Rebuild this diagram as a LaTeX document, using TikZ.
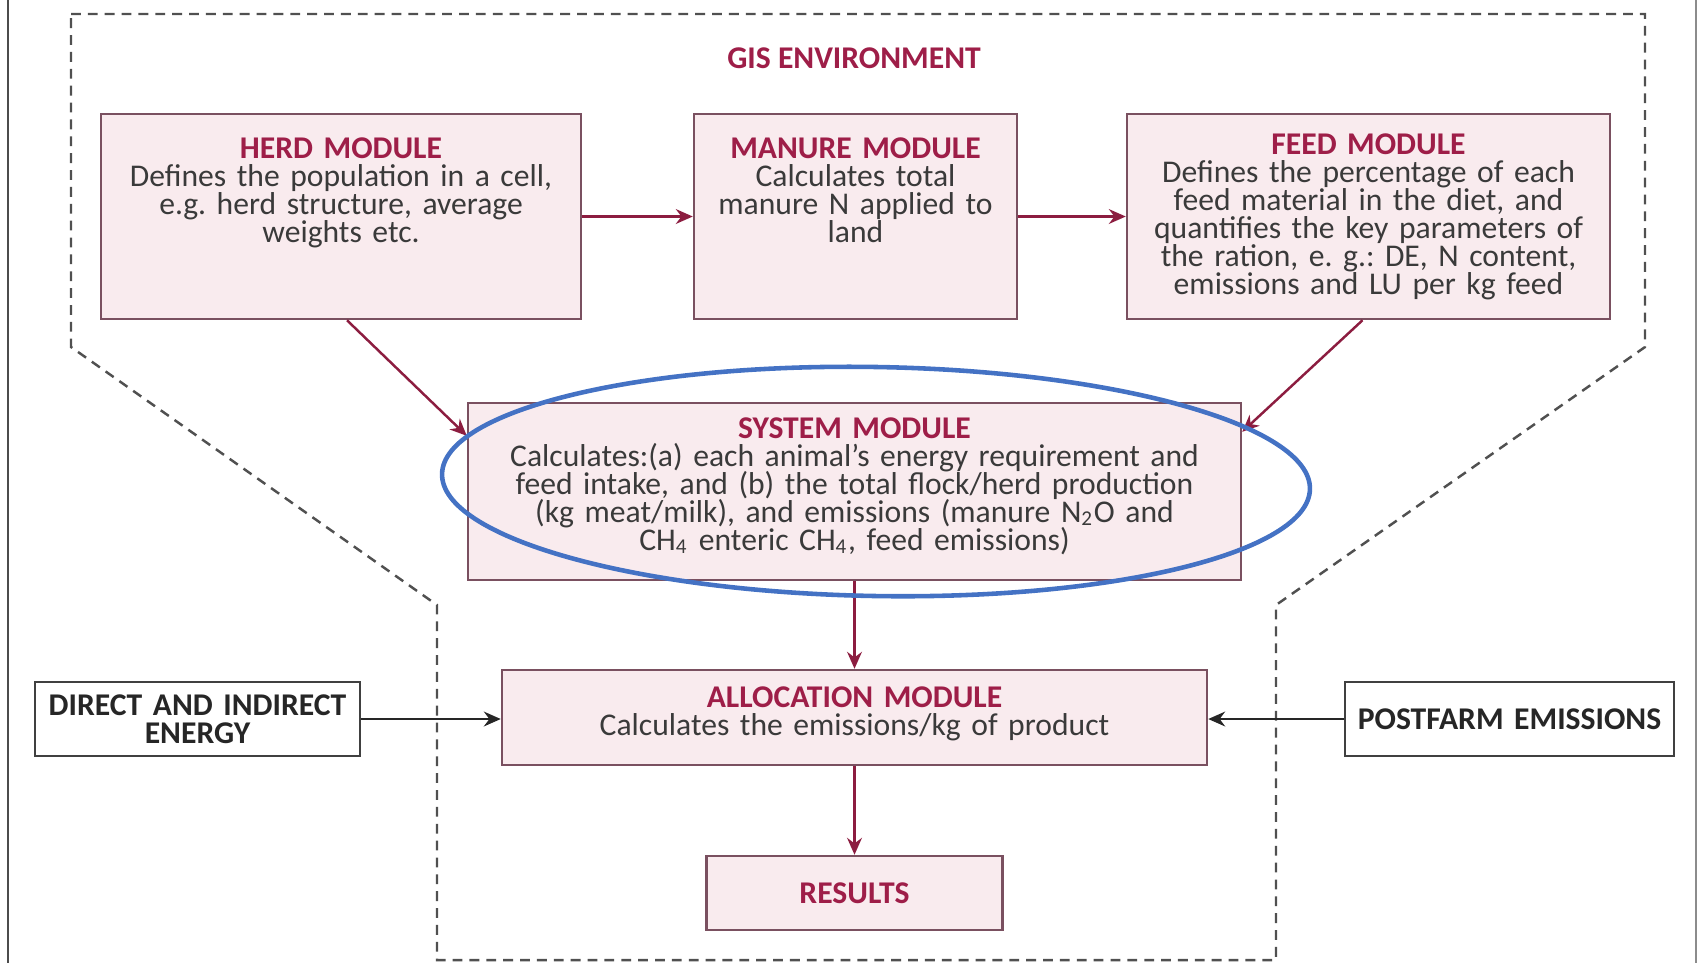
\documentclass[tikz,border=0pt]{standalone}
\usepackage{fontspec}
\setmainfont{Carlito}
\usetikzlibrary{arrows.meta}

\definecolor{gistitle}{RGB}{158,30,72}
\definecolor{gisarrow}{RGB}{140,29,64}
\definecolor{boxedge}{RGB}{122,80,96}
\definecolor{boxfill}{RGB}{249,235,238}
\definecolor{bodytext}{RGB}{58,58,58}
\definecolor{envline}{RGB}{80,80,80}
\definecolor{ringblue}{RGB}{68,114,196}

\newcommand{\boxfont}{\fontsize{9}{7.97}\selectfont\frenchspacing\lineskiplimit=-100pt\relax}
\newcommand{\modtitle}[1]{{\bfseries\color{gistitle}#1}}

\begin{document}
\begin{tikzpicture}[
        font=\boxfont,
        module/.style={draw=boxedge, fill=boxfill, line width=0.7pt, inner sep=0pt, align=center, text=bodytext},
        outside/.style={draw=black!75, fill=white, line width=0.8pt, inner sep=0pt, align=center,
            font=\boxfont\bfseries, text=black!85},
        flow/.style={draw=gisarrow, line width=0.7pt, -{Stealth[length=4.8pt,width=4.2pt]}},
        feedin/.style={draw=black!85, line width=0.7pt, -{Stealth[length=4.8pt,width=4.2pt]}}
    ]
    \useasboundingbox (0,0) rectangle (17,-9.63);

    % page edges
    \draw[black!70, line width=0.8pt] (0.08,0) -- (0.08,-9.63);
    \draw[black!45, line width=0.8pt] (16.96,0) -- (16.96,-9.63);

    % GIS environment outline
    \draw[envline, line width=0.7pt, dash pattern=on 2.8pt off 2pt]
        (0.71,-0.14) -- (16.45,-0.14) -- (16.45,-3.47) -- (12.76,-6.05) -- (12.76,-9.6)
        -- (4.37,-9.6) -- (4.37,-6.05) -- (0.71,-3.47) -- cycle;
    \node[font=\boxfont\bfseries, text=gistitle] (gis) at (8.54,-0.58) {GIS ENVIRONMENT};

    \node[module, text width=4.8cm, text height=0.44cm, text depth=1.61cm] (herd) at (3.41,-2.165)
        {\modtitle{HERD MODULE}\\ Defines the population in a cell,\\ e.g. herd structure, average\\ weights etc.};
    \node[module, text width=3.23cm, text height=0.44cm, text depth=1.61cm] (manure) at (8.555,-2.165)
        {\modtitle{MANURE MODULE}\\ Calculates total\\ manure N applied to\\ land};
    \node[module, text width=4.83cm, text height=0.405cm, text depth=1.645cm] (feed) at (13.685,-2.165)
        {\modtitle{FEED MODULE}\\ Defines the percentage of each\\ feed material in the diet, and\\
         quantifies the key parameters of\\ the ration, e. g.: DE, N content,\\ emissions and LU per kg feed};
    \node[module, text width=7.73cm, text height=0.35cm, text depth=1.42cm] (system) at (8.545,-4.915)
        {\modtitle{SYSTEM MODULE}\\ Calculates:(a) each animal's energy requirement and\\
         feed intake, and (b) the total flock/herd production\\
         (kg meat/milk), and emissions (manure N\textsubscript{2}O and\\
         CH\textsubscript{4} enteric CH\textsubscript{4}, feed emissions)};
    \node[module, text width=7.05cm, text height=0.37cm, text depth=0.58cm] (alloc) at (8.545,-7.175)
        {\modtitle{ALLOCATION MODULE}\\ Calculates the emissions/kg of product};
    \node[module, minimum width=2.96cm, minimum height=0.74cm] (results) at (8.545,-8.93)
        {\modtitle{RESULTS}};

    \node[outside, text width=3.25cm, minimum height=0.74cm] (direct) at (1.975,-7.19)
        {DIRECT AND INDIRECT\\ ENERGY};
    \node[outside, text width=3.29cm, minimum height=0.74cm] (postfarm) at (15.095,-7.19)
        {POSTFARM EMISSIONS};

    \draw[flow] (herd) -- (manure);
    \draw[flow] (manure) -- (feed);
    \draw[flow] ([xshift=0.06cm]herd.south) -- ([yshift=-0.34cm]system.north west);
    \draw[flow] ([xshift=-0.06cm]feed.south) -- ([yshift=-0.3cm]system.north east);
    \draw[flow] (system) -- (alloc);
    \draw[flow] (alloc) -- (results);
    \draw[feedin] (direct.east) -- (direct.east -| alloc.west);
    \draw[feedin] (postfarm.west) -- (postfarm.west -| alloc.east);

    % highlight ring
    \draw[ringblue, line width=1.3pt, rotate around={-1:(8.76,-4.815)}]
        (8.76,-4.815) ellipse [x radius=4.34cm, y radius=1.145cm];
\end{tikzpicture}
\end{document}
